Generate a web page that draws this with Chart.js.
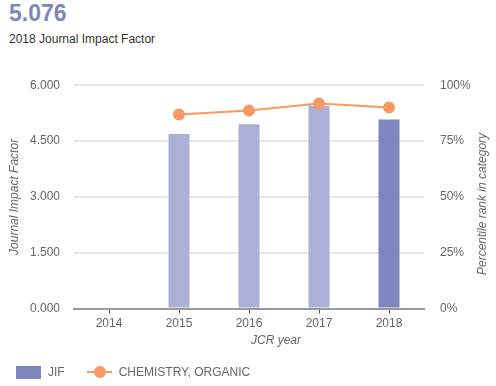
<!DOCTYPE html>
<html>
<head>
<meta charset="utf-8">
<script src="https://cdn.jsdelivr.net/npm/chart.js@4"></script>
<style>
    body { margin: 0; width: 496px; height: 386px; background: #fff; font-family: "Liberation Sans", Arial, sans-serif; position: relative; overflow: hidden; }
    #big { position: absolute; left: 9px; top: 0px; font-size: 23px; font-weight: bold; color: #7f86bd; }
    #sub { position: absolute; left: 9px; top: 32px; font-size: 12px; color: #333; }
    #wrap { position: absolute; left: 0; top: 62px; width: 496px; height: 272px; }
    #xtitle { position: absolute; left: 251px; top: 333px; font-size: 12px; font-style: italic; color: #666; }
    #ytitle2 { position: absolute; left: 482px; top: 204px; font-size: 12px; font-style: italic; color: #666; white-space: nowrap; transform: translate(-50%, -50%) rotate(-90deg); }
    #legend { position: absolute; left: 16px; top: 365px; font-size: 12px; color: #666; display: flex; align-items: center; }
    .box { width: 25px; height: 13px; background: #7f86bd; margin-right: 7px; }
    .ln { position: relative; width: 25px; height: 2px; background: #f79a63; margin: 0 7px 0 22px; }
    .ln span { position: absolute; left: 7px; top: -5px; width: 12px; height: 12px; border-radius: 50%; background: #f79a63; }
</style>
</head>
<body>
<div id="big">5.076</div>
<div id="sub">2018 Journal Impact Factor</div>
<div id="wrap"><canvas id="myChart"></canvas></div>
<div id="xtitle">JCR year</div>
<div id="ytitle2">Percentile rank in category</div>
<div id="legend"><div class="box"></div>JIF<div class="ln"><span></span></div>CHEMISTRY, ORGANIC</div>
<script>
const years = ['2014', '2015', '2016', '2017', '2018'];
const jifValues = [null, 4.69, 4.95, 5.45, 5.076];
const percentileValues = [null, 86.9, 88.7, 91.8, 90.0];
const jifTicks = [0, 1.5, 3, 4.5, 6];

document.addEventListener("DOMContentLoaded", function () {
    const ctx = document.getElementById('myChart').getContext('2d');
    Chart.defaults.font.family = '"Liberation Sans", Arial, sans-serif';
    Chart.defaults.font.size = 12;
    Chart.defaults.color = '#666';

    new Chart(ctx, {
        data: {
            labels: years,
            datasets: [
                {
                    type: 'line',
                    label: 'CHEMISTRY, ORGANIC',
                    data: percentileValues,
                    yAxisID: 'y2',
                    borderColor: '#f79a63',
                    backgroundColor: '#f79a63',
                    borderWidth: 2,
                    pointRadius: 5,
                    pointHoverRadius: 5,
                    tension: 0,
                    order: 0
                },
                {
                    type: 'bar',
                    label: 'JIF',
                    data: jifValues,
                    yAxisID: 'y',
                    backgroundColor: years.map((y, i) => i === years.length - 1 ? '#7f86bd' : '#aab0d6'),
                    barPercentage: 0.6,
                    categoryPercentage: 0.5,
                    order: 1
                }
            ]
        },
        options: {
            responsive: true,
            maintainAspectRatio: false,
            animation: false,
            layout: { padding: { left: 3, right: 0, top: 14, bottom: 0 } },
            plugins: {
                legend: { display: false },
                tooltip: { enabled: false }
            },
            scales: {
                x: {
                    grid: { offset: false, drawOnChartArea: false, drawTicks: true, tickLength: 5, color: '#555' },
                    border: { color: '#999', width: 2 },
                    ticks: { padding: 3, color: '#666' }
                },
                y: {
                    position: 'left',
                    min: 0,
                    max: 6,
                    afterBuildTicks: (axis) => { axis.ticks = jifTicks.map(v => ({ value: v })); },
                    afterFit: (axis) => { axis.width = 71; },
                    grid: { color: '#e6e6ec', lineWidth: 2, drawTicks: false },
                    border: { display: false },
                    ticks: { padding: 14, callback: (v) => v.toFixed(3) },
                    title: { display: true, text: 'Journal Impact Factor', font: { style: 'italic' }, padding: { top: 4, bottom: 2 } }
                },
                y2: {
                    position: 'right',
                    min: 0,
                    max: 100,
                    afterFit: (axis) => { axis.width = 72; },
                    grid: { drawOnChartArea: false, drawTicks: false },
                    border: { display: false },
                    ticks: { stepSize: 25, padding: 16, callback: (v) => v + '%' }
                }
            }
        }
    });
});
</script>
</body>
</html>
